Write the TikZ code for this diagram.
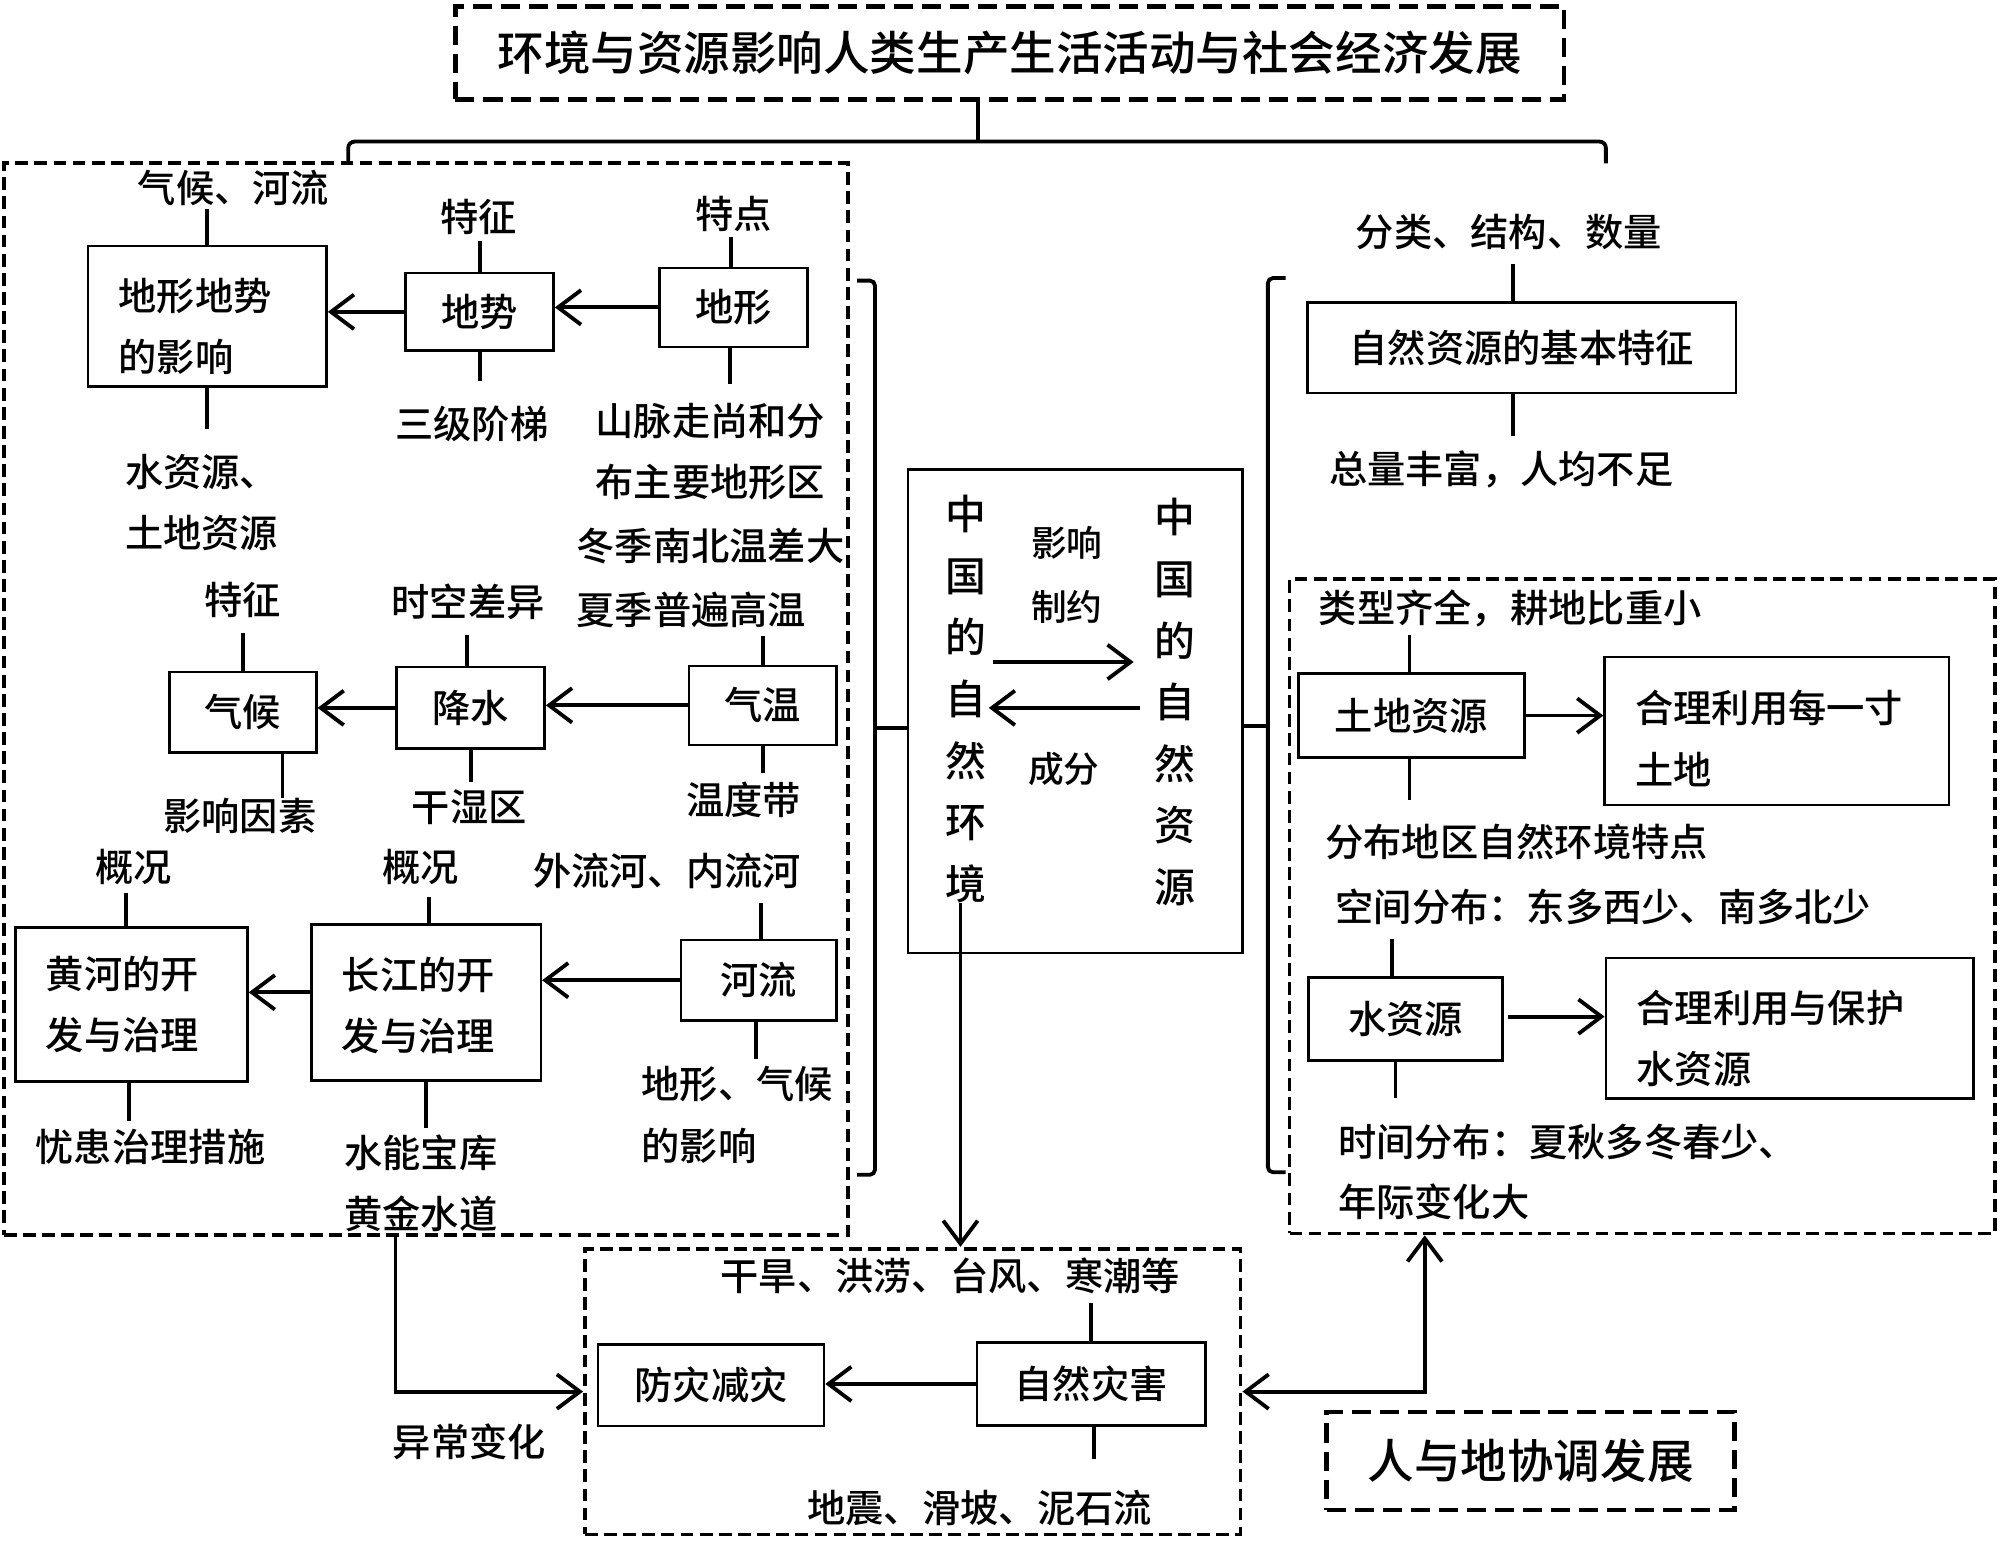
\documentclass[tikz,border=0pt]{standalone}
\usepackage{fontspec}
\setmainfont{Noto Sans CJK SC Medium}
\usetikzlibrary{arrows.meta}

\newcommand{\bodyfs}{\fontsize{30}{48}\selectfont}
\newcommand{\bigfs}{\fontsize{36.5}{44}\selectfont}
\newcommand{\midfs}{\fontsize{28}{50}\selectfont}
\newcommand{\vertfs}{\fontsize{32}{48.3}\selectfont}

\begin{document}
\begin{tikzpicture}[x=1pt, y=-1pt,
    box/.style={draw, line width=2pt, inner sep=0pt, font=\bodyfs, align=center},
    twoline/.style={draw, line width=2pt, inner sep=0pt},
    twotxt/.style={inner xsep=24pt, inner ysep=0pt, font=\bodyfs, align=left, text width=#1},
    lbl/.style={inner sep=0pt, font=\bodyfs, align=left},
    sect/.style={draw, line width=3pt, dash pattern=on 10pt off 5pt},
    bigsect/.style={draw, line width=3.5pt, dash pattern=on 15pt off 7pt, font=\bigfs},
    tick/.style={line width=3pt},
    arr/.style={line width=3pt, -{Straight Barb[length=18pt,width=27pt,line width=3pt]}},
    darr/.style={line width=3pt, {Straight Barb[length=18pt,width=27pt,line width=3pt]}-{Straight Barb[length=18pt,width=27pt,line width=3pt]}},
]
        \useasboundingbox (0,0) rectangle (1568,1209);

        % Frames
        \node[bigsect, minimum width=869, minimum height=73] (title) at (791.5,41.5) {环境与资源影响人类生产生活活动与社会经济发展};
        \node[sect, minimum width=662, minimum height=840] (leftsec) at (334,548) {};
        \node[sect, minimum width=553, minimum height=513] (ressec) at (1287.5,710.5) {};
        \node[sect, minimum width=514, minimum height=224] (disbox) at (715.6,1091) {};
        \node[bigsect, minimum width=320, minimum height=77] (rdxt) at (1200,1145.5) {人与地协调发展};

        % Draw nodes: terrain
        \node[twoline, minimum width=187, minimum height=110,
              label={[twotxt=139, yshift=-8pt]center:{地形地势\\的影响}}] (dxdsyx) at (162.5,248) {};
        \node[box, minimum width=116, minimum height=61] (dishi) at (376,244.5) {地势};
        \node[box, minimum width=116, minimum height=62] (dixing) at (575,241) {地形};
        \node[lbl] (qhhl) at (183,147) {气候、河流};
        \node[lbl] (tz1) at (375,170) {特征};
        \node[lbl] (td) at (575,168) {特点};
        \node[lbl] (szyl) at (158,394) {水资源、\\土地资源};
        \node[lbl] (sjjt) at (370,332) {三级阶梯};
        \node[lbl] (smzx) at (557,354) {山脉走尚和分\\布主要地形区};

        % Draw nodes: climate
        \node[box, minimum width=115, minimum height=63] (qihou) at (190.5,558.5) {气候};
        \node[box, minimum width=116, minimum height=64] (jiangshui) at (369,555) {降水};
        \node[box, minimum width=116, minimum height=62] (qiwen) at (598,553) {气温};
        \node[lbl] (tz2) at (190,470) {特征};
        \node[lbl] (sk) at (367,472) {时空差异};
        \node[lbl, font=\fontsize{30}{50}\selectfont] (dqwc) at (557,453) {冬季南北温差大\\夏季普遍高温};
        \node[lbl] (yxys) at (188,640) {影响因素};
        \node[lbl] (gsq) at (368,633) {干湿区};
        \node[lbl] (wdd) at (583,627) {温度带};

        % Draw nodes: rivers
        \node[twoline, minimum width=182, minimum height=121,
              label={[twotxt=134]center:{黄河的开\\发与治理}}] (huanghe) at (103,787.5) {};
        \node[twoline, minimum width=180, minimum height=122,
              label={[twotxt=132, yshift=-2pt]center:{长江的开\\发与治理}}] (changjiang) at (334,786) {};
        \node[box, minimum width=122, minimum height=63] (heliu) at (595,768.5) {河流};
        \node[lbl] (gk1) at (105,680) {概况};
        \node[lbl] (gk2) at (330,680) {概况};
        \node[lbl] (wlh) at (523,683) {外流河、内流河};
        \node[lbl] (yhzl) at (118,899) {忧患治理措施};
        \node[lbl] (snbk) at (330,928) {水能宝库\\黄金水道};
        \node[lbl] (dxqh) at (578,874) {地形、气候\\的影响};

        % Draw nodes: centre
        \node[draw, line width=2pt, minimum width=262, minimum height=379] (centerbox) at (843,557.5) {};
        \node[inner sep=0pt, font=\vertfs, align=center] (envtxt) at (757,548) {中\\国\\的\\自\\然\\环\\境};
        \node[inner sep=0pt, font=\vertfs, align=center] (restxt) at (921,550.5) {中\\国\\的\\自\\然\\资\\源};
        \node[inner sep=0pt, font=\midfs, align=center] (yxzy) at (836.5,451) {影响\\制约};
        \node[inner sep=0pt, font=\midfs] (cf) at (834,603) {成分};

        % Draw nodes: resources
        \node[box, minimum width=336, minimum height=71] (zrzyjb) at (1193,272.5) {自然资源的基本特征};
        \node[lbl] (flj) at (1183,182) {分类、结构、数量};
        \node[lbl] (zlff) at (1177,368) {总量丰富，人均不足};
        \node[box, minimum width=177, minimum height=66] (tdzy) at (1106.5,561) {土地资源};
        \node[twoline, minimum width=270, minimum height=116,
              label={[twotxt=222, yshift=-6pt]center:{合理利用每一寸\\土地}}] (hlly1) at (1393,573) {};
        \node[lbl] (lxqq) at (1184,477) {类型齐全，耕地比重小};
        \node[lbl] (fbdq) at (1189,660) {分布地区自然环境特点};
        \node[box, minimum width=152, minimum height=65] (szyb) at (1102,799) {水资源};
        \node[twoline, minimum width=288, minimum height=110,
              label={[twotxt=240, yshift=-8pt]center:{合理利用与保护\\水资源}}] (hlly2) at (1403,806) {};
        \node[lbl] (kjfb) at (1257,711) {空间分布：东多西少、南多北少};
        \node[lbl, font=\fontsize{30}{47}\selectfont] (sjfb) at (1229,918.5) {时间分布：夏秋多冬春少、\\年际变化大};

        % Draw nodes: disasters
        \node[box, minimum width=179, minimum height=65] (zrzh) at (855.5,1085) {自然灾害};
        \node[box, minimum width=177, minimum height=64] (fzjz) at (557.5,1086) {防灾减灾};
        \node[lbl] (ghhl) at (745,1000) {干旱、洪涝、台风、寒潮等};
        \node[lbl] (dzhp) at (768,1182) {地震、滑坡、泥石流};
        \node[lbl] (ycbh) at (368,1130) {异常变化};

        \coordinate (xyc) at (310,0);
        \coordinate (hx) at (1117,0);

        % Draw connections
        \draw[tick, rounded corners=5pt] (273,128) |- (1259,111) -- (1259,128);
        \draw[tick] ([xshift=-25]title.south) -- ++(0,32);
        \draw[tick, rounded corners=4pt] (672,220) -| (686,921) -- (672,921);
        \draw[tick] ([yshift=-13.5]centerbox.west) -- ++(-26,0);
        \draw[tick, rounded corners=4pt] (1008,218) -| (994,919) -- (1008,919);
        \draw[tick] ([yshift=-11.5]centerbox.east) -- ++(20,0);

        \draw[arr] (dixing.west) -- (dixing.west -| dishi.east);
        \draw[arr] (dishi.west) -- (dishi.west -| dxdsyx.east);
        \draw[arr] (qiwen.west) -- (qiwen.west -| jiangshui.east);
        \draw[arr] (jiangshui.west) -- (jiangshui.west -| qihou.east);
        \draw[arr] (heliu.west) -- (heliu.west -| changjiang.east);
        \draw[arr] ([yshift=8]changjiang.west) -- ([yshift=8]changjiang.west -| huanghe.east);
        \draw[arr] (tdzy.east) -- (tdzy.east -| hlly1.west);
        \draw[arr, shorten <=3pt] ([yshift=2]szyb.east) -- ([yshift=2]szyb.east -| hlly2.west);
        \draw[arr] (zrzh.west) -- (zrzh.west -| fzjz.east);

        \draw[arr, shorten <=5pt, shorten >=16pt] ([yshift=29]envtxt.east) -- ([yshift=29]envtxt.east -| restxt.west);
        \draw[arr, shorten <=11pt, shorten >=2pt] ([yshift=-7]envtxt.east -| restxt.west) -- ([yshift=-7]envtxt.east);
        \draw[arr] ([xshift=-4]envtxt.south) -- ([xshift=-4]envtxt.south |- disbox.north);
        \draw[arr] (leftsec.south -| xyc) |- (disbox.west);
        \draw[darr] (disbox.east) -| (ressec.south -| hx);

        % Ticks
        \draw[tick] (dxdsyx.north) -- ++(0,-28);
        \draw[tick] (dxdsyx.south) -- ++(0,32);
        \draw[tick] (dishi.north) -- ++(0,-24);
        \draw[tick] (dishi.south) -- ++(0,23);
        \draw[tick] ([xshift=-2]dixing.north) -- ++(0,-23);
        \draw[tick] ([xshift=-3]dixing.south) -- ++(0,28);
        \draw[tick] (qihou.north) -- ++(0,-30);
        \draw[tick] ([xshift=31]qihou.south) -- ++(0,35);
        \draw[tick] ([xshift=-3]jiangshui.north) -- ++(0,-24);
        \draw[tick] (jiangshui.south) -- ++(0,25);
        \draw[tick] (qiwen.north) -- ++(0,-22);
        \draw[tick] (qiwen.south) -- ++(0,21);
        \draw[tick] ([xshift=-4.5]huanghe.north) -- ++(0,-26);
        \draw[tick] ([xshift=-2]huanghe.south) -- ++(0,30);
        \draw[tick] ([xshift=2.5]changjiang.north) -- ++(0,-21);
        \draw[tick] (changjiang.south) -- ++(0,36);
        \draw[tick] ([xshift=1.5]heliu.north) -- ++(0,-28);
        \draw[tick] ([xshift=-2]heliu.south) -- ++(0,29);
        \draw[tick] ([xshift=-7]zrzyjb.north) -- ++(0,-29);
        \draw[tick] ([xshift=-7]zrzyjb.south) -- ++(0,33);
        \draw[tick] ([xshift=-1.5]tdzy.north) -- ++(0,-29);
        \draw[tick] ([xshift=-1.5]tdzy.south) -- ++(0,32);
        \draw[tick] ([xshift=-11]szyb.north) -- ++(0,-29);
        \draw[tick] ([xshift=-8]szyb.south) -- ++(0,28);
        \draw[tick] (zrzh.north) -- ++(0,-30);
        \draw[tick] ([xshift=2.5]zrzh.south) -- ++(0,25);
\end{tikzpicture}
\end{document}
